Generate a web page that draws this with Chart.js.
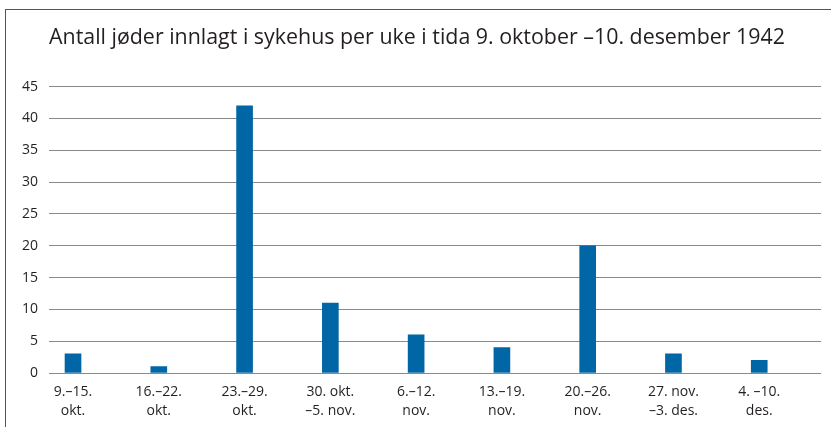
<!DOCTYPE html>
<html>
<head>
<meta charset="utf-8">
<script src="https://cdn.jsdelivr.net/npm/chart.js@4/dist/chart.umd.min.js"></script>
<style>
  html, body { margin: 0; padding: 0; background: #fff; }
  #wrap { position: relative; width: 831px; height: 427px; overflow: hidden; }
  #frame { position: absolute; left: 5px; top: 9px; width: 900px; height: 500px;
           border-top: 1px solid #555; border-left: 1px solid #555; pointer-events: none; }
  canvas { position: absolute; left: 0; top: 0; }
</style>
</head>
<body>
<div id="wrap">
  <canvas id="c" width="831" height="427"></canvas>
  <div id="frame"></div>
</div>
<script>
const titleText = 'Antall jøder innlagt i sykehus per uke i tida 9. oktober –10. desember 1942';
const weekLabels = [
  ['9.–15.', 'okt.'],
  ['16.–22.', 'okt.'],
  ['23.–29.', 'okt.'],
  ['30. okt.', '–5. nov.'],
  ['6.–12.', 'nov.'],
  ['13.–19.', 'nov.'],
  ['20.–26.', 'nov.'],
  ['27. nov.', '–3. des.'],
  ['4. –10.', 'des.']
];
const admitted = [3, 1, 42, 11, 6, 4, 20, 3, 2];
const yTicks = [0, 5, 10, 15, 20, 25, 30, 35, 40, 45];

const points = admitted.map((v, i) => ({ x: i, y: v }));
const FONT = '"Open Sans", "Noto Sans", sans-serif';
const TEXT = '#231f20';

new Chart(document.getElementById('c'), {
  type: 'bar',
  data: {
    datasets: [{
      data: points,
      backgroundColor: '#0066a6',
      borderWidth: 0,
      barThickness: 16
    }]
  },
  options: {
    responsive: false,
    animation: false,
    devicePixelRatio: 1,
    layout: { padding: { left: 5, right: 10, top: 0, bottom: 0 } },
    plugins: {
      legend: { display: false },
      tooltip: { enabled: false },
      title: {
        display: true,
        text: titleText,
        align: 'start',
        fullSize: false,
        color: TEXT,
        font: { family: FONT, size: 21.4, weight: 'normal', lineHeight: 1.2 },
        padding: { top: 25, bottom: 36 }
      }
    },
    scales: {
      x: {
        type: 'linear',
        offset: false,
        min: -0.28,
        max: 8.72,
        afterFit: (scale) => { scale.height = 54; },
        grid: { display: false, drawTicks: false, offset: false },
        border: { display: false },
        afterBuildTicks: (scale) => { scale.ticks = weekLabels.map((_, i) => ({ value: i })); },
        ticks: {
          autoSkip: false,
          maxRotation: 0,
          padding: 9,
          color: TEXT,
          font: { family: FONT, size: 14, lineHeight: 1.4 },
          callback: (value) => weekLabels[value]
        }
      },
      y: {
        min: 0,
        max: 45,
        afterFit: (scale) => { scale.width = 44; },
        afterBuildTicks: (scale) => { scale.ticks = yTicks.map(v => ({ value: v })); },
        grid: { color: '#8a8a8a', lineWidth: 1, drawTicks: false },
        border: { display: false },
        ticks: {
          padding: 11,
          color: TEXT,
          font: { family: FONT, size: 14 }
        }
      }
    }
  }
});
</script>
</body>
</html>
